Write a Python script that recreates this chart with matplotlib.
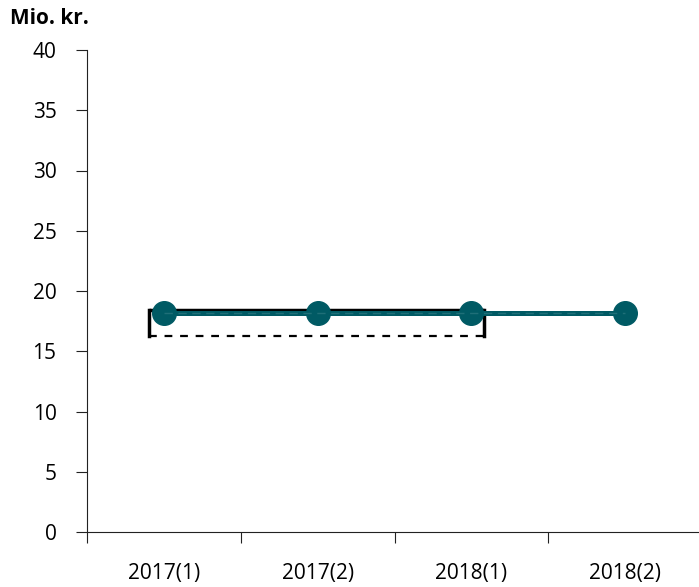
import matplotlib
matplotlib.use("Agg")
import matplotlib.pyplot as plt

categories = ["2017(1)", "2017(2)", "2018(1)", "2018(2)"]
values = [18.2, 18.2, 18.2, 18.2]
band_x = [-0.1, 2.08]
band_low = 16.3
band_high = 18.4
yticks = [0, 5, 10, 15, 20, 25, 30, 35, 40]

plt.rcParams['font.family'] = ['Open Sans', 'DejaVu Sans']
teal = "#005a64"
fs = 15

fig = plt.figure(figsize=(6.99, 5.87), dpi=100)
ax = fig.add_axes([87/699, 1-532/587, 615/699, (532-50)/587])

# band box
ax.plot(band_x, [band_high, band_high], color="black", lw=2.5, solid_capstyle="butt", zorder=2)
ax.plot(band_x, [band_low, band_low], color="black", lw=1.6, ls=(0, (3.5, 3.5)), zorder=2)
for bx in band_x:
    ax.plot([bx, bx], [band_low, band_high], color="black", lw=2.5, zorder=2)

x = list(range(len(categories)))
ax.plot(x, values, color=teal, lw=3.6, marker="o", markersize=17, zorder=3)
ax.plot(x, values, color="#1f6f78", lw=1.0, ls=(0, (6, 4)), zorder=4)

ax.set_xlim(-0.5, 3.5)
ax.set_ylim(0, 40)
ax.set_yticks(yticks)
ax.set_xticks([i - 0.5 for i in range(len(categories) + 1)])
ax.set_xticklabels([])
ax.set_xticks(x, minor=True)
ax.set_xticklabels(categories, minor=True)
ax.tick_params(axis="x", which="minor", length=0, pad=22, labelsize=fs)
ax.tick_params(axis="x", which="major", length=8, direction="out", color="#222222")
ax.tick_params(axis="y", length=8, direction="out", labelsize=fs, pad=14, color="#222222")
for s in ["top", "right"]:
    ax.spines[s].set_visible(False)
ax.spines["left"].set_color("#222222")
ax.spines["bottom"].set_color("#222222")

fig.text(10/699, 1-19/587, "Mio. kr.", fontsize=fs, fontweight="bold", va="center", ha="left")

fig.savefig("out.png", dpi=100)
